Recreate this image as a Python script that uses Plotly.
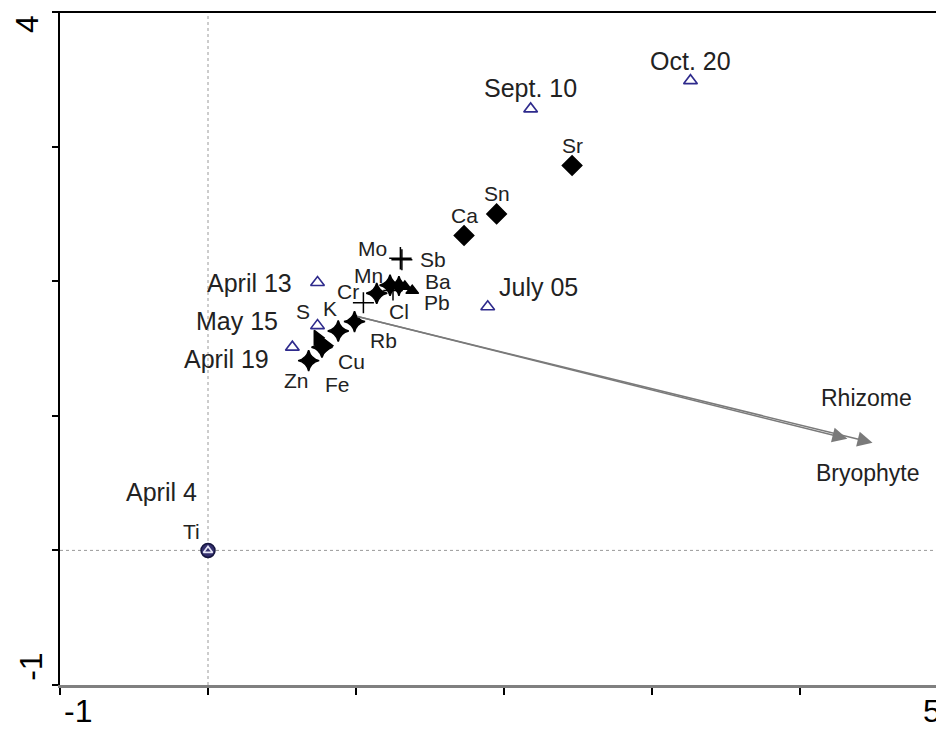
import plotly.graph_objects as go

# ---------------- data ----------------
sample_names = ["April 4", "April 13", "April 19", "May 15", "July 05", "Sept. 10", "Oct. 20"]
sample_x = [0.0, 0.74, 0.57, 0.74, 1.89, 2.18, 3.26]
sample_y = [0.0, 1.99, 1.51, 1.67, 1.81, 3.28, 3.49]

element_names = ["Sr", "Sn", "Ca", "Mo", "Sb", "Mn", "Ba", "Pb", "Cl", "Cr",
                 "K", "Rb", "S", "Cu", "Fe", "Zn", "Ti"]
element_x = [2.46, 1.95, 1.73, 1.30, 1.31, 1.23, 1.33, 1.38, 1.25, 1.14,
             0.88, 0.99, 0.74, 0.76, 0.77, 0.68, 0.0]
element_y = [2.86, 2.50, 2.34, 2.17, 2.16, 1.97, 1.96, 1.93, 1.93, 1.91,
             1.63, 1.70, 1.58, 1.55, 1.51, 1.41, 0.0]

# unlabelled element markers inside the dense cluster
extra_x = [1.05, 1.29, 0.80]
extra_y = [1.84, 1.965, 1.52]

vector_names = ["Rhizome", "Bryophyte"]
vector_x = [4.32, 4.49]
vector_y = [0.83, 0.80]
arrow_origin_x = 1.0
arrow_origin_y = 1.74

x_tick_vals = [-1, 0, 1, 2, 3, 4, 5]
y_tick_vals = [-1, 0, 1, 2, 3, 4]

# ---------------- styles ----------------
FONT = "Liberation Sans, Arial, sans-serif"
NAVY = "#2e2a8c"
TXT = "#222222"

element_symbols = ["diamond", "diamond", "diamond", "cross-thin", "cross-thin",
                   "star-diamond", "triangle-up", "triangle-up", "cross-thin",
                   "star-diamond", "star-diamond", "star-diamond", "triangle-right",
                   "triangle-right", "star-diamond", "star-diamond", "circle"]
element_sizes = [15, 15, 15, 16, 15, 15, 11, 11, 14, 15, 15, 15, 13, 13, 15, 15, 14]
element_colors = ["black"] * 16 + ["#34306e"]
extra_symbols = ["cross-thin", "star-diamond", "triangle-right"]
extra_sizes = [15, 14, 13]

# label offsets in pixels (xshift, yshift)
element_label_shift = [(0, 20), (0, 20), (0, 20), (-28, 10), (31, 0), (-22, 10),
                       (33, 5), (25, -12), (6, -21), (-29, 2), (-8, 23), (29, -19),
                       (-15, 26), (31, -20), (16, -37), (-12, -20), (-17, 19)]
sample_label_shift = [(-47, 58), (-68, 0), (-66, -12), (-81, 5), (51, 20), (0, 21), (0, 20)]
vector_label_shift = [(19, 41), (-5, -30)]

fig = go.Figure()

# reference dotted lines through origin
fig.add_shape(type="line", x0=0, x1=0, y0=-1, y1=4, xref="x", yref="y",
              line=dict(color="#9a9a9a", width=1, dash="dot"), layer="below")
fig.add_shape(type="line", x0=-1, x1=5.1, y0=0, y1=0, xref="x", yref="y",
              line=dict(color="#9a9a9a", width=1, dash="dot"), layer="below")

# element markers
fig.add_trace(go.Scatter(
    x=element_x, y=element_y, mode="markers", hoverinfo="text", text=element_names,
    marker=dict(symbol=element_symbols, size=element_sizes, color=element_colors, opacity=1,
                line=dict(color=["black"] * 16 + ["#15153f"], width=1.5)),
    showlegend=False))
fig.add_trace(go.Scatter(
    x=extra_x, y=extra_y, mode="markers", hoverinfo="skip",
    marker=dict(symbol=extra_symbols, size=extra_sizes, color="black", opacity=1,
                line=dict(color="black", width=1.5)),
    showlegend=False))

# sample markers
fig.add_trace(go.Scatter(
    x=sample_x, y=sample_y, mode="markers", hoverinfo="text", text=sample_names,
    marker=dict(symbol="triangle-up-open", size=[8, 12, 12, 12, 12, 12, 12], opacity=1,
                color=["#e6e6f6"] + [NAVY] * 6, line=dict(width=1.6)),
    showlegend=False))

# arrows
for tx, ty in zip(vector_x, vector_y):
    fig.add_annotation(x=tx, y=ty, ax=arrow_origin_x, ay=arrow_origin_y,
                       xref="x", yref="y", axref="x", ayref="y", text="",
                       showarrow=True, arrowhead=2, arrowsize=2, arrowwidth=1.5,
                       arrowcolor="#7a7a7a")

# labels
for name, x, y, (dx, dy) in zip(element_names, element_x, element_y, element_label_shift):
    fig.add_annotation(x=x, y=y, text=name, showarrow=False, xshift=dx, yshift=dy,
                       font=dict(family=FONT, size=21, color=TXT))
for name, x, y, (dx, dy) in zip(sample_names, sample_x, sample_y, sample_label_shift):
    fig.add_annotation(x=x, y=y, text=name, showarrow=False, xshift=dx, yshift=dy,
                       font=dict(family=FONT, size=25, color=TXT))
for name, x, y, (dx, dy) in zip(vector_names, vector_x, vector_y, vector_label_shift):
    fig.add_annotation(x=x, y=y, text=name, showarrow=False, xshift=dx, yshift=dy,
                       font=dict(family=FONT, size=23, color=TXT))

# axis end labels
ax_font = dict(family=FONT, size=32, color="black")
fig.add_annotation(xref="paper", yref="paper", x=-0.037, y=0.982, text=str(y_tick_vals[-1]),
                   textangle=-90, showarrow=False, font=ax_font,
                   xanchor="center", yanchor="middle")
fig.add_annotation(xref="paper", yref="paper", x=-0.0325, y=0.027, text=str(y_tick_vals[0]),
                   textangle=-90, showarrow=False, font=ax_font,
                   xanchor="center", yanchor="middle")
fig.add_annotation(xref="paper", yref="paper", x=0.0202, y=-0.0386, text=str(x_tick_vals[0]),
                   showarrow=False, font=ax_font, xanchor="center", yanchor="middle")
fig.add_annotation(xref="paper", yref="paper", x=0.99, y=-0.0386, text=str(x_tick_vals[-1]),
                   showarrow=False, font=ax_font, xanchor="right", yanchor="middle")

# top frame line
fig.add_shape(type="line", xref="paper", yref="paper", x0=-0.008, x1=1.0, y0=1, y1=1,
              line=dict(color="black", width=2))

fig.update_layout(
    width=944, height=729,
    margin=dict(l=52, r=0, t=4, b=52),
    paper_bgcolor="white", plot_bgcolor="white",
    xaxis=dict(range=[-1, 5.027], showgrid=False, zeroline=False, showline=True,
               linecolor="#808080", linewidth=3, ticks="outside", tickvals=x_tick_vals,
               ticklen=7, tickwidth=2, tickcolor="black", showticklabels=False),
    yaxis=dict(range=[-1, 4], showgrid=False, zeroline=False, showline=True,
               linecolor="black", linewidth=2, ticks="outside", tickvals=y_tick_vals,
               ticklen=6, tickwidth=2, tickcolor="black", showticklabels=False),
)

fig.write_html("out.html")
